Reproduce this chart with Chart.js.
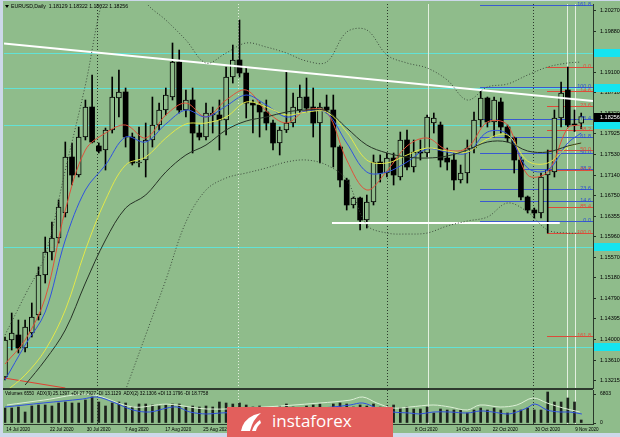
<!DOCTYPE html>
<html>
<head>
<meta charset="utf-8">
<title>EURUSD Daily</title>
<script src="https://cdn.jsdelivr.net/npm/chart.js@4.4.1/dist/chart.umd.min.js"></script>
<style>
  html, body { margin: 0; padding: 0; }
  body { width: 620px; height: 437px; position: relative; overflow: hidden; background: #cdd8ea; }
  #panel { position: absolute; left: 3px; top: 1px; width: 617px; height: 432px; background: #8fbc8b; }
  canvas { position: absolute; left: 0; }
  #main { top: 0; }
  #vol { top: 388px; }
  #brand { position: absolute; left: 227px; top: 407px; width: 166px; height: 30px; background: #e25f5c; color: #fff;
           font-family: "Open Sans", sans-serif; font-size: 17px; line-height: 17px; }
  #brand svg { position: absolute; left: 12px; top: 4px; }
  #brand span { position: absolute; left: 45px; top: 5px; }
</style>
</head>
<body>
<div id="panel"></div>
<canvas id="main" width="620" height="390"></canvas>
<canvas id="vol" width="620" height="49"></canvas>
<div id="brand">
  <svg width="24" height="22" viewBox="0 0 24 22">
    <path d="M2 20 Q4 9 15 4 L22 2 Q14 8 11 20 Z" fill="#fff"/>
    <path d="M13 20 Q15 13 21 9 L22 12 Q18 15 17 20 Z" fill="#fff"/>
  </svg>
  <span>instaforex</span>
</div>
<script>
// EURUSD daily candles, 14 Jul 2020 - 11 Nov 2020
const candleOpen = [1.13286, 1.13992, 1.14087, 1.13839, 1.14125, 1.14469, 1.15232, 1.15671, 1.15938, 1.16415,
  1.17483, 1.17140, 1.17865, 1.18437, 1.17693, 1.17617, 1.17999, 1.18609, 1.18724, 1.17865,
  1.17369, 1.17426, 1.17808, 1.18094, 1.18380, 1.18628, 1.19296, 1.18380, 1.18571, 1.17941,
  1.17865, 1.18285, 1.18285, 1.18189, 1.19010, 1.19334, 1.19086, 1.18514, 1.18476, 1.18342,
  1.18132, 1.17751, 1.17999, 1.18132, 1.18380, 1.18628, 1.18437, 1.18132, 1.18437, 1.18380,
  1.17674, 1.17045, 1.16568, 1.16701, 1.16281, 1.16625, 1.17388, 1.17178, 1.17464, 1.17102,
  1.17808, 1.17293, 1.17579, 1.17560, 1.18132, 1.18094, 1.17464, 1.17426, 1.17045, 1.17178,
  1.17655, 1.18189, 1.18609, 1.18151, 1.18533, 1.18056, 1.17846, 1.17426, 1.16720, 1.16472,
  1.16415, 1.17140, 1.17197, 1.18228, 1.18762, 1.18113, 1.18129];
const candleHigh = [1.14049, 1.14507, 1.14373, 1.14373, 1.14698, 1.15385, 1.15957, 1.16243, 1.16663, 1.17770,
  1.17751, 1.18056, 1.18571, 1.19048, 1.17751, 1.18037, 1.19010, 1.19143, 1.18800, 1.17941,
  1.18056, 1.18132, 1.18628, 1.18514, 1.18800, 1.19659, 1.19525, 1.18762, 1.18800, 1.18094,
  1.18514, 1.18437, 1.18571, 1.19201, 1.19620, 1.20097, 1.19201, 1.18571, 1.18533, 1.18571,
  1.18189, 1.18056, 1.19105, 1.18705, 1.18857, 1.18991, 1.18800, 1.18514, 1.18666, 1.18666,
  1.17700, 1.17080, 1.16720, 1.16720, 1.16758, 1.17522, 1.17522, 1.17560, 1.17560, 1.17960,
  1.17999, 1.17808, 1.17808, 1.18285, 1.18323, 1.18151, 1.17655, 1.17560, 1.17331, 1.17808,
  1.18342, 1.18762, 1.18628, 1.18628, 1.18609, 1.18094, 1.17865, 1.17483, 1.16740, 1.16510,
  1.17178, 1.17617, 1.18380, 1.18914, 1.19201, 1.18380, 1.18322];
const candleLow = [1.13229, 1.13801, 1.13744, 1.13763, 1.14049, 1.14373, 1.15079, 1.15518, 1.15843, 1.16339,
  1.16949, 1.17102, 1.17808, 1.17751, 1.17560, 1.17235, 1.17941, 1.18247, 1.17674, 1.17331,
  1.17293, 1.17102, 1.17674, 1.17999, 1.18285, 1.18571, 1.18323, 1.18247, 1.17560, 1.17808,
  1.17808, 1.17941, 1.17617, 1.17903, 1.18895, 1.19010, 1.18228, 1.17941, 1.17865, 1.17999,
  1.17617, 1.17522, 1.17950, 1.18056, 1.18323, 1.18342, 1.17865, 1.17369, 1.18323, 1.17293,
  1.16911, 1.16472, 1.16510, 1.16091, 1.16129, 1.16568, 1.17006, 1.17102, 1.16949, 1.17045,
  1.17235, 1.17197, 1.17426, 1.17483, 1.17941, 1.17293, 1.17235, 1.16854, 1.16987, 1.16987,
  1.17560, 1.18056, 1.18056, 1.17865, 1.17941, 1.17770, 1.17178, 1.16663, 1.16415, 1.16320,
  1.16320, 1.16033, 1.17102, 1.18056, 1.18056, 1.17970, 1.18022];
const candleClose = [1.13992, 1.14125, 1.13839, 1.14240, 1.14431, 1.15232, 1.15671, 1.15938, 1.16529, 1.17483,
  1.17140, 1.17865, 1.18437, 1.17770, 1.17598, 1.17999, 1.18628, 1.18724, 1.17865, 1.17369,
  1.17388, 1.17808, 1.18094, 1.18380, 1.18666, 1.19296, 1.18380, 1.18571, 1.17941, 1.17865,
  1.18323, 1.18323, 1.18189, 1.19010, 1.19334, 1.19086, 1.18514, 1.18476, 1.18342, 1.18132,
  1.17751, 1.17999, 1.18132, 1.18437, 1.18628, 1.18418, 1.18132, 1.18437, 1.18380, 1.17674,
  1.17045, 1.16568, 1.16701, 1.16281, 1.16625, 1.17388, 1.17178, 1.17464, 1.17140, 1.17808,
  1.17293, 1.17579, 1.17560, 1.18247, 1.18228, 1.17426, 1.17388, 1.17045, 1.17178, 1.17655,
  1.18189, 1.18609, 1.18151, 1.18571, 1.18056, 1.17846, 1.17426, 1.16720, 1.16472, 1.16415,
  1.17102, 1.17235, 1.18228, 1.18705, 1.18094, 1.18094, 1.18256];

// indicator lines at every third bar
const maIdx = [0, 3, 6, 9, 12, 15, 18, 21, 24, 27, 30, 33, 36, 39, 42, 45, 48, 51, 54, 57, 60, 63, 66, 69, 72, 75, 78, 81, 84, 86];
const maRed = [1.13534, 1.13992, 1.14793, 1.16472, 1.17617, 1.17941, 1.18094, 1.17846, 1.18285, 1.18514, 1.18247, 1.18571, 1.18762, 1.18361, 1.18132,
  1.18380, 1.18342, 1.17426, 1.16854, 1.17216, 1.17693, 1.17846, 1.17617, 1.17655, 1.18151, 1.18094, 1.17140, 1.17197, 1.18037, 1.18094];
const maBlue = [1.13229, 1.13896, 1.14526, 1.15900, 1.16854, 1.17331, 1.17865, 1.17770, 1.18113, 1.18380, 1.18247, 1.18457, 1.18666, 1.18476, 1.18247,
  1.18361, 1.18323, 1.17751, 1.17197, 1.17197, 1.17388, 1.17636, 1.17579, 1.17560, 1.17960, 1.17922, 1.17274, 1.17235, 1.17751, 1.17941];
const maYellow = [1.13000, 1.13324, 1.13801, 1.14564, 1.15709, 1.16663, 1.17331, 1.17483, 1.17846, 1.18113, 1.18132, 1.18247, 1.18533, 1.18437, 1.18285,
  1.18342, 1.18342, 1.17960, 1.17426, 1.17369, 1.17522, 1.17655, 1.17598, 1.17579, 1.17827, 1.17903, 1.17407, 1.17369, 1.17674, 1.17751];
const slowIdx = maIdx.slice(1);
const maSlow = [1.13133, 1.13610, 1.14183, 1.15079, 1.15900, 1.16510, 1.16758, 1.17197, 1.17522, 1.17712, 1.17999, 1.18170, 1.18247, 1.18342,
  1.18380, 1.18361, 1.18037, 1.17712, 1.17560, 1.17483, 1.17464, 1.17503, 1.17617, 1.17770, 1.17770, 1.17598, 1.17579, 1.17693, 1.17751];
const bandUpper = [1.14087, 1.14850, 1.15614, 1.17235, 1.18857, 1.20670, 1.21242, 1.20441, 1.20097, 1.19716, 1.19277, 1.19468, 1.19659, 1.19582, 1.19468,
  1.19315, 1.19296, 1.19868, 1.19907, 1.19430, 1.19277, 1.19182, 1.18953, 1.18571, 1.18819, 1.18876, 1.19048, 1.19201, 1.19277, 1.19296];
const lowerIdx = maIdx.slice(6);
const bandLower = [1.13038, 1.14087, 1.15137, 1.16243, 1.16854, 1.17083, 1.17178, 1.17274, 1.17388, 1.17426, 1.17331, 1.17045,
  1.16186, 1.16033, 1.16014, 1.16033, 1.16167, 1.16262, 1.16339, 1.16606, 1.16434, 1.16091, 1.16033, 1.16033];

// drawn objects
const trendIdx = [-0.15, 87.76];
const trendVal = [1.19649, 1.18552];
const supportIdx = [48.8, 82.8];
const supportVal = [1.16224, 1.16224];
const redSegIdx = [-0.15, 9.0];
const redSegVal = [1.13267, 1.13076];
const cyanLevels = [1.19468, 1.18800, 1.18094, 1.15766, 1.13858];
const markerIdx = [13.73, 34.78, 57.01, 63.13, 78.81, 83.88, 85.07];

// fibonacci sets
const blueFibStart = 70.9;
const blueFibLabels = ['161.8', '100.0', '76.4', '61.8', '50.0', '38.2', '23.6', '14.6', '0.0'];
const blueFibPrices = [1.20384, 1.18819, 1.18208, 1.17865, 1.17560, 1.17254, 1.16873, 1.16644, 1.16262];
const redFibStart = 80.9;
const redFibLabels = ['0.0', '14.6', '23.6', '38.2', '50.0', '61.8', '85.4', '100.0', '161.8'];
const redFibPrices = [1.19201, 1.18743, 1.18457, 1.17999, 1.17617, 1.17235, 1.16529, 1.16033, 1.14068];

// price axis labels
const priceTicks = [1.20270, 1.19880, 1.19490, 1.19100, 1.18710, 1.18320, 1.17925, 1.17530, 1.17140, 1.16750,
  1.16355, 1.15960, 1.15570, 1.15180, 1.14790, 1.14395, 1.14000, 1.13610, 1.13215];

// volume pane
const volumes = [3525, 3525, 3760, 2585, 3995, 4230, 4230, 3995, 4700, 4935,
  4700, 4700, 5405, 6110, 4935, 3995, 4700, 4935, 4700, 3760,
  4465, 4465, 4230, 3995, 4230, 4465, 4465, 3760, 3995, 3760,
  3995, 3760, 4935, 4700, 4465, 4700, 4230, 3760, 3995, 3525,
  3760, 3995, 4465, 3760, 3525, 3995, 4230, 4465, 3525, 4465,
  4700, 4465, 3760, 4230, 3995, 4465, 3760, 3995, 4230, 3525,
  3760, 3290, 3290, 3760, 2350, 3290, 3055, 3055, 3055, 2350,
  3055, 3525, 3055, 3525, 3055, 2350, 3055, 3055, 3525, 3055,
  3055, 7285, 4935, 4935, 5875, 4935, 705];
const adxIdx = [0, 5.7, 11.6, 13.7, 16.1, 19.1, 21.6, 24.2, 25.7, 27.6, 30.1, 32.1, 38, 44, 48.5, 51.5, 53.4, 55.5, 57.9,
  60.4, 61.9, 63.9, 66.4, 69, 70.9, 72.8, 75, 76.4, 77.9, 79.1, 80.9, 82.8, 84.3, 86.1];
const adxMain = [56, 70, 84, 91, 73.5, 45.5, 38.5, 52.5, 56, 38.5, 31.5, 35, 40, 48, 55, 63, 70, 52.5, 38.5,
  35, 31.5, 38.5, 38.5, 35, 42, 38.5, 31.5, 38.5, 52.5, 66.5, 45.5, 38.5, 38.5, 31.5];
const diIdx = [0.3, 5.7, 12.7, 19.1, 24.2, 30.1, 38, 47, 51.5, 53.4, 55.5, 57.9, 60.4, 63.9, 66.4, 69, 70.9, 73.9, 76.4, 78.8, 80.9, 83.3, 85.8];
const diPlus = [63, 80, 100, 56, 66, 49, 55, 70, 80, 91, 70, 52.5, 56, 63, 56, 45.5, 63, 56, 63, 87.5, 70, 52.5, 38.5];

const dateIdx = [0.2, 6.7, 12.2, 17.9, 23.9, 29.6, 35.5, 41.5, 47.5, 53.3, 61.2, 67.3, 72.8, 79.1, 85.1];
const dateLabels = ['14 Jul 2020', '22 Jul 2020', '30 Jul 2020', '7 Aug 2020', '17 Aug 2020', '25 Aug 2020', '2 Sep 2020',
  '10 Sep 2020', '18 Sep 2020', '28 Sep 2020', '8 Oct 2020', '14 Oct 2020', '22 Oct 2020', '30 Oct 2020', '9 Nov 2020'];

const BG = '#8fbc8b';
const X_MIN = -0.15, X_MAX = 87.76;

function pts(idx, vals) {
    return vals.map((v, k) => ({ x: idx[k], y: v }));
}

function hline(ctx, x0, x1, py) {
    ctx.beginPath();
    ctx.moveTo(x0, py);
    ctx.lineTo(x1, py);
    ctx.stroke();
}

// vertical markers shared by both panes
function drawMarkers(ctx, xScale, top, bottom) {
    const dark = '#2c392c', light = '#e3efdf';
    const colors = [dark, light, dark, light, dark, light, light];
    const dotted = [true, true, true, false, true, false, false];
    markerIdx.forEach((v, k) => {
        const px = Math.round(xScale.getPixelForValue(v)) + 0.5;
        ctx.strokeStyle = colors[k];
        ctx.setLineDash(dotted[k] ? [1, 2] : []);
        ctx.beginPath();
        ctx.moveTo(px, top);
        ctx.lineTo(px, bottom);
        ctx.stroke();
    });
    ctx.setLineDash([]);
}

// candle pieces
const wickData = candleHigh.map((h, i) => ({ x: i, y: [candleLow[i], h] }));
const bodyUp = [];
const bodyDown = [];
candleOpen.forEach((o, i) => {
    const c = candleClose[i];
    const bar = { x: i, y: [Math.min(o, c), Math.max(o, c)] };
    if (c >= o) bodyUp.push(bar); else bodyDown.push(bar);
});

const mainDecor = {
    id: 'mainDecor',
    beforeDatasetsDraw(chart) {
        const { ctx, chartArea: a, scales: { x, y } } = chart;
        ctx.save();
        ctx.beginPath();
        ctx.rect(a.left, a.top, a.right - a.left, a.bottom - a.top);
        ctx.clip();
        ctx.lineWidth = 1;
        ctx.strokeStyle = '#62e2d6';
        cyanLevels.forEach(p => hline(ctx, a.left, a.right, Math.round(y.getPixelForValue(p)) + 0.5));
        drawMarkers(ctx, x, a.top, a.bottom);
        ctx.strokeStyle = '#3a5ad0';
        blueFibPrices.forEach(p => hline(ctx, x.getPixelForValue(blueFibStart), a.right, Math.round(y.getPixelForValue(p)) + 0.5));
        ctx.strokeStyle = '#dc4b3a';
        redFibPrices.forEach(p => hline(ctx, x.getPixelForValue(redFibStart), a.right, Math.round(y.getPixelForValue(p)) + 0.5));
        ctx.restore();
    },
    afterDatasetsDraw(chart) {
        const { ctx, chartArea: a, scales: { y } } = chart;
        ctx.save();
        ctx.font = '5.5px "Liberation Sans"';
        ctx.textAlign = 'right';
        ctx.textBaseline = 'bottom';
        ctx.fillStyle = '#2d4fd0';
        blueFibPrices.forEach((p, k) => ctx.fillText(blueFibLabels[k], a.right - 2, Math.round(y.getPixelForValue(p)) + 2));
        ctx.fillStyle = '#e0503c';
        redFibPrices.forEach((p, k) => ctx.fillText(redFibLabels[k], a.right - 2, Math.round(y.getPixelForValue(p)) + 2));

        // header
        ctx.fillStyle = '#000';
        ctx.beginPath();
        ctx.moveTo(5, 5); ctx.lineTo(9, 5); ctx.lineTo(7, 8); ctx.closePath(); ctx.fill();
        ctx.textAlign = 'left';
        ctx.textBaseline = 'middle';
        ctx.font = '5.2px "Liberation Sans"';
        ctx.fillText('EURUSD,Daily  1.18129 1.18322 1.18022 1.18256', 11, 6.5);
        ctx.restore();
    },
    afterDraw(chart) {
        const { ctx, chartArea: a, scales: { y } } = chart;
        ctx.save();
        ctx.fillStyle = '#14e4f0';
        cyanLevels.forEach(p => {
            const py = Math.round(y.getPixelForValue(p));
            ctx.fillRect(a.right + 1, py - 4, 620 - a.right, 8);
        });
        const last = candleClose[candleClose.length - 1];
        const py = Math.round(y.getPixelForValue(last));
        ctx.fillStyle = '#000';
        ctx.fillRect(a.right + 1, py - 4, 620 - a.right, 9);
        ctx.fillStyle = '#fff';
        ctx.font = '5.5px "Liberation Sans"';
        ctx.textBaseline = 'middle';
        ctx.fillText(last.toFixed(5), a.right + 7, py + 0.5);
        ctx.restore();
    }
};

const lineStyle = { type: 'line', pointRadius: 0, borderWidth: 1, tension: 0.35, order: 1 };

new Chart(document.getElementById('main'), {
    type: 'bar',
    data: {
        datasets: [
            { type: 'bar', data: wickData, backgroundColor: '#000', barThickness: 1, maxBarThickness: 1, grouped: false, order: 4 },
            { type: 'bar', data: bodyUp, backgroundColor: BG, borderColor: '#000', borderWidth: 1, borderSkipped: false,
              barThickness: 5, maxBarThickness: 5, minBarLength: 1, grouped: false, order: 3 },
            { type: 'bar', data: bodyDown, backgroundColor: '#000', borderColor: '#000', borderWidth: 0,
              barThickness: 5, maxBarThickness: 5, minBarLength: 1, grouped: false, order: 3 },
            { ...lineStyle, data: pts(maIdx, bandUpper), borderColor: '#3c4a3c', borderDash: [1, 2] },
            { ...lineStyle, data: pts(lowerIdx, bandLower), borderColor: '#3c4a3c', borderDash: [1, 2] },
            { ...lineStyle, data: pts(slowIdx, maSlow), borderColor: '#263226' },
            { ...lineStyle, data: pts(maIdx, maYellow), borderColor: '#e2e84a' },
            { ...lineStyle, data: pts(maIdx, maBlue), borderColor: '#2f52e0' },
            { ...lineStyle, data: pts(maIdx, maRed), borderColor: '#e0503a' },
            { ...lineStyle, data: pts(redSegIdx, redSegVal), borderColor: '#e04030', tension: 0 },
            { ...lineStyle, data: pts(trendIdx, trendVal), borderColor: '#ffffff', borderWidth: 2, tension: 0 },
            { ...lineStyle, data: pts(supportIdx, supportVal), borderColor: '#ffffff', borderWidth: 2, tension: 0 }
        ]
    },
    options: {
        responsive: false,
        animation: false,
        events: [],
        layout: { padding: { left: 4, top: 4, bottom: 2, right: 0 } },
        plugins: { legend: { display: false }, tooltip: { enabled: false } },
        scales: {
            x: { type: 'linear', min: X_MIN, max: X_MAX, offset: false, display: false },
            y: {
                position: 'right',
                min: 1.13076,
                max: 1.20403,
                afterBuildTicks: s => { s.ticks = priceTicks.map(v => ({ value: v })); },
                afterFit: s => { s.width = 27; s.paddingTop = 0; s.paddingBottom = 0; },
                ticks: { autoSkip: false, padding: 4, color: '#000', font: { size: 5.5, family: 'Liberation Sans' },
                         callback: v => v.toFixed(5) },
                grid: { drawOnChartArea: false, tickLength: 3, color: '#223022' },
                border: { color: '#2a382a' }
            }
        }
    },
    plugins: [mainDecor]
});

const volDecor = {
    id: 'volDecor',
    beforeDatasetsDraw(chart) {
        const { ctx, chartArea: a, scales: { x } } = chart;
        ctx.save();
        ctx.lineWidth = 1;
        drawMarkers(ctx, x, a.top, a.bottom);
        ctx.restore();
    },
    afterDraw(chart) {
        const { ctx, chartArea: a } = chart;
        ctx.save();
        ctx.fillStyle = '#2e3a2e';
        ctx.fillRect(3, 0, a.right - 3, 2);
        ctx.fillStyle = '#000';
        ctx.font = '4.6px "Liberation Sans"';
        ctx.textBaseline = 'middle';
        ctx.fillText('Volumes 6550  ADX(9) 25.1397 +DI 27.7927 -DI 13.1129  ADX(2) 32.1306 +DI 13.1796 -DI 18.7758', 5, 6);
        ctx.restore();
    }
};

new Chart(document.getElementById('vol'), {
    type: 'bar',
    data: {
        datasets: [
            { type: 'bar', data: volumes.map((v, i) => ({ x: i, y: v })), backgroundColor: '#1c221c',
              barThickness: 2, maxBarThickness: 2, grouped: false, yAxisID: 'y', order: 3 },
            { type: 'line', data: pts(diIdx, diPlus), borderColor: '#dcefd6', borderWidth: 1, pointRadius: 0, tension: 0.35, yAxisID: 'adx', order: 2 },
            { type: 'line', data: pts(adxIdx, adxMain), borderColor: '#2f4fe0', borderWidth: 1, pointRadius: 0, tension: 0.35, yAxisID: 'adx', order: 1 }
        ]
    },
    options: {
        responsive: false,
        animation: false,
        events: [],
        layout: { padding: { left: 4, top: 2, bottom: 0, right: 0 } },
        plugins: { legend: { display: false }, tooltip: { enabled: false } },
        scales: {
            x: {
                type: 'linear', min: X_MIN, max: X_MAX, offset: false, position: 'bottom',
                afterBuildTicks: s => { s.ticks = dateIdx.map(v => ({ value: v })); },
                afterFit: s => { s.height = 13; s.paddingLeft = 0; s.paddingRight = 0; },
                ticks: { autoSkip: false, maxRotation: 0, minRotation: 0, align: 'start', padding: 3, color: '#000',
                         font: { size: 4.6, family: 'Liberation Sans' }, callback: (v, i) => dateLabels[i] },
                grid: { display: false, drawTicks: false },
                border: { color: '#2a382a' }
            },
            y: {
                position: 'right', min: -235, max: 7755,
                afterBuildTicks: s => { s.ticks = [{ value: 6803 }, { value: 0 }]; },
                afterFit: s => { s.width = 27; s.paddingTop = 0; s.paddingBottom = 0; },
                ticks: { autoSkip: false, padding: 4, color: '#000', font: { size: 5, family: 'Liberation Sans' },
                         callback: v => String(v) },
                grid: { drawOnChartArea: false, tickLength: 3, color: '#223022' },
                border: { color: '#2a382a' }
            },
            adx: { display: false, min: -3.5, max: 115.5 }
        }
    },
    plugins: [volDecor]
});
</script>
</body>
</html>
